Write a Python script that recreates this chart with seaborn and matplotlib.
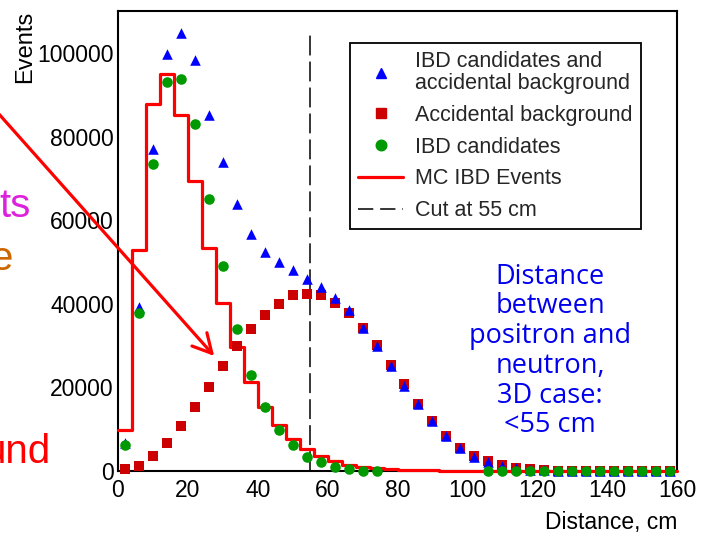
import numpy as np
import pandas as pd
import matplotlib
matplotlib.use("Agg")
import matplotlib.pyplot as plt
from matplotlib.lines import Line2D
from matplotlib.ticker import MultipleLocator
import seaborn as sns

# ---------------- data ----------------
bin_centers = [2, 6, 10, 14, 18, 22, 26, 30, 34, 38, 42, 46, 50, 54, 58, 62, 66, 70, 74, 78,
               82, 86, 90, 94, 98, 102, 106, 110, 114, 118, 122, 126, 130, 134, 138, 142, 146, 150, 154, 158]
ibd_plus_acc = [6600, 39300, 77000, 99800, 104800, 98300, 85100, 73900, 63800, 56700,
                52500, 49900, 48000, 46000, 44100, 41500, 38400, 34300, 30000, 25200,
                20400, 16000, 11900, 8300, 5400, 3400, 2100, 1200, 650, 350,
                180, 100, 60, 40, 30, 20, 15, 10, 8, 5]
accidental = [500, 1200, 3600, 6700, 10800, 15300, 20100, 25200, 30000, 34000,
              37400, 40000, 42000, 42400, 42000, 40300, 37900, 34300, 30200, 25400,
              20900, 16100, 12000, 8400, 5500, 3600, 2400, 1400, 750, 400,
              200, 100, 60, 40, 30, 20, 15, 10, 8, 5]
ibd = [6200, 37900, 73400, 93000, 93800, 83000, 65000, 49000, 34000, 23000,
       15300, 9800, 6200, 3400, 2100, 1000, 500, 100, 50, np.nan,
       np.nan, np.nan, np.nan, np.nan, np.nan, np.nan, 50, 50, 50, 50,
       50, 50, 50, 50, 50, 50, 50, 50, 50, 50]
mc_edges = [0, 4, 8, 12, 16, 20, 24, 28, 32, 36, 40, 44, 48, 52, 56, 60, 64, 68, 72, 76, 80,
            84, 88, 92, 96, 100, 104, 108, 112, 116, 120, 124, 128, 132, 136, 140, 144, 148, 152, 156, 160]
mc_ibd = [9800, 52800, 87800, 95000, 85200, 69300, 53300, 40200, 29600, 21400,
          15400, 11000, 7700, 5300, 3600, 2400, 1500, 1000, 600, 400,
          300, 250, 200, 30, 30, 30, 30, 30, 30, 30,
          30, 30, 30, 30, 30, 30, 30, 30, 30, 30]
cut_cm = 55
x_ticks = [0, 20, 40, 60, 80, 100, 120, 140, 160]
y_ticks = [0, 20000, 40000, 60000, 80000, 100000]

label_total = "IBD candidates and\naccidental background"
label_acc = "Accidental background"
label_ibd = "IBD candidates"
label_mc = "MC IBD Events"
label_cut = "Cut at 55 cm"
note_text = "Distance\nbetween\npositron and\nneutron,\n3D case:\n<55 cm"

# ---------------- style ----------------
sns.set_theme(style="white")
plt.rcParams['font.family'] = ['Liberation Sans', 'DejaVu Sans']

W, H = 702, 541
fig = plt.figure(figsize=(W / 100, H / 100), dpi=100)
ax = fig.add_axes([118 / W, 1 - 471 / H, (677 - 118) / W, (471 - 11) / H])


def px(x, y):
    return x / W, 1 - y / H


c_blue = "#0000ff"
c_acc = "#cc0000"
c_ibd = "#009a00"
c_mc = "#ff0000"

df = pd.DataFrame({"x": bin_centers, "total": ibd_plus_acc, "acc": accidental, "ibd": ibd})
mc_centers = [(a + b) / 2 for a, b in zip(mc_edges[:-1], mc_edges[1:])]

sns.histplot(x=mc_centers, weights=mc_ibd, bins=mc_edges, element="step", fill=False,
             color=c_mc, linewidth=2.3, ax=ax, zorder=2.6)
for ln in ax.lines:
    ln.set_clip_on(False)

ax.vlines(cut_cm, 0, max(ibd_plus_acc), colors="black", linewidth=1.1,
          linestyles=(0, (13, 4)), zorder=2)

ms = 7.6
sns.scatterplot(data=df, x="x", y="acc", marker="s", color=c_acc, s=ms ** 2, linewidth=0,
                ax=ax, zorder=3, clip_on=False)
sns.scatterplot(data=df, x="x", y="total", marker="^", color=c_blue, s=ms ** 2, linewidth=0,
                ax=ax, zorder=4, clip_on=False)
sns.scatterplot(data=df.dropna(subset=["ibd"]), x="x", y="ibd", marker="o", color=c_ibd,
                s=ms ** 2, linewidth=0, ax=ax, zorder=5, clip_on=False)

ax.set_xlim(mc_edges[0], mc_edges[-1])
ax.set_ylim(0, 1.05 * max(ibd_plus_acc))
ax.set_xticks(x_ticks)
ax.set_yticks(y_ticks)
ax.xaxis.set_minor_locator(MultipleLocator(5))
ax.yaxis.set_minor_locator(MultipleLocator(5000))
ax.tick_params(which="both", direction="in", top=False, right=False, colors="black",
               labelsize=16.5, width=1.2)
ax.tick_params(which="major", length=12)
ax.tick_params(which="minor", length=6.5)
ax.tick_params(axis="x", pad=6)
ax.tick_params(axis="y", pad=3)
for sp in ax.spines.values():
    sp.set_color("black")
    sp.set_linewidth(1.5)

ax.set_xlabel("Distance, cm", loc="right", fontsize=16.5, labelpad=6, color="black")
ax.set_ylabel("Events", loc="top", fontsize=17, labelpad=1, color="black")

handles = [
    Line2D([], [], marker="^", color=c_blue, ls="none", ms=ms),
    Line2D([], [], marker="s", color=c_acc, ls="none", ms=ms),
    Line2D([], [], marker="o", color=c_ibd, ls="none", ms=ms),
    Line2D([], [], color=c_mc, lw=2.3),
    Line2D([], [], color="black", lw=1.1, ls=(0, (10, 4.5))),
]
leg = ax.legend(handles, [label_total, label_acc, label_ibd, label_mc, label_cut],
                loc="upper left", bbox_to_anchor=px(350, 43),
                bbox_transform=fig.transFigure, borderaxespad=0, fontsize=15.5,
                frameon=True, fancybox=False, framealpha=1, edgecolor="black",
                borderpad=0.38, handlelength=2.1, handletextpad=0.55, labelspacing=0.5)
leg.get_frame().set_linewidth(1.3)
for t in leg.get_texts():
    t.set_linespacing(1.05)

fig.text(*px(550, 351), note_text, ha="center", va="center", ma="center",
         fontsize=19.5, color="#0000ee", family=["Open Sans", "DejaVu Sans"], linespacing=1.08)

# clipped slide fragments on the left
fig.text(*px(31, 217), "ts", ha="right", va="baseline", fontsize=29, color="#dd22dd")
fig.text(*px(13, 270), "e", ha="right", va="baseline", fontsize=29, color="#cc6600")
fig.text(*px(51, 463), "und", ha="right", va="baseline", fontsize=29, color="#ff0000")

fig.add_artist(matplotlib.patches.FancyArrowPatch(
    px(-10, 104), px(216, 358), transform=fig.transFigure,
    arrowstyle="->,head_length=1.35,head_width=0.72", mutation_scale=10,
    color="#ff0000", lw=2.3, zorder=10))

fig.savefig("out.png", dpi=100)
